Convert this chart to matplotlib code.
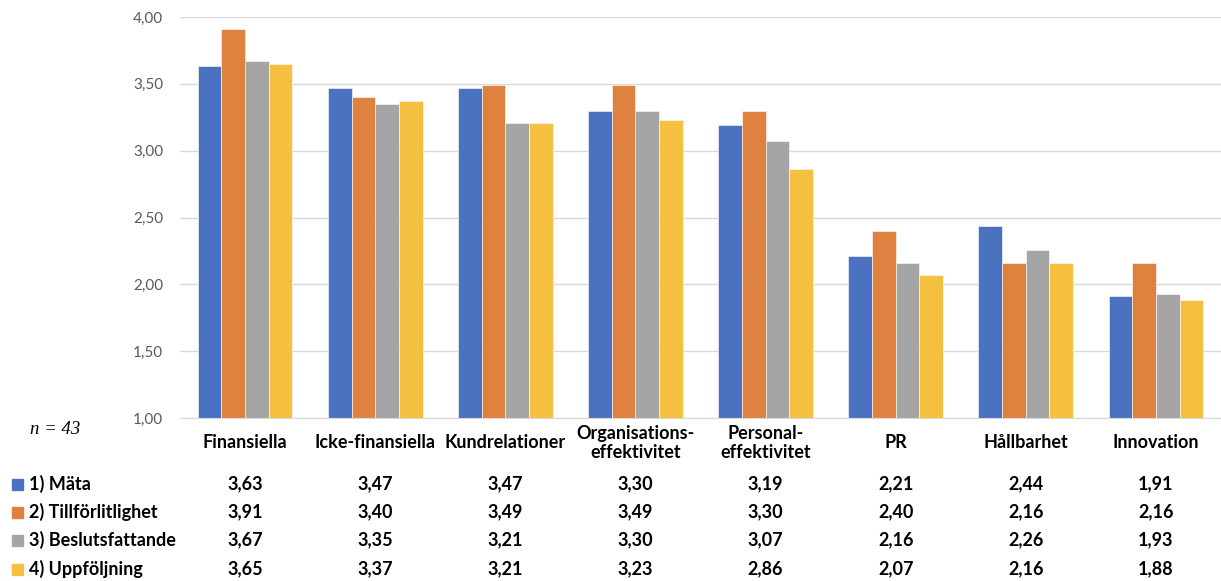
import matplotlib
matplotlib.use("Agg")
import matplotlib.pyplot as plt
from matplotlib.patches import Rectangle
from matplotlib.transforms import blended_transform_factory
import numpy as np

categories = ["Finansiella", "Icke-finansiella", "Kundrelationer",
              "Organisations-\neffektivitet", "Personal-\neffektivitet",
              "PR", "Hållbarhet", "Innovation"]
series_names = ["1) Mäta", "2) Tillförlitlighet", "3) Beslutsfattande", "4) Uppföljning"]
mata = [3.63, 3.47, 3.47, 3.30, 3.19, 2.21, 2.44, 1.91]
tillforlitlighet = [3.91, 3.40, 3.49, 3.49, 3.30, 2.40, 2.16, 2.16]
beslutsfattande = [3.67, 3.35, 3.21, 3.30, 3.07, 2.16, 2.26, 1.93]
uppfoljning = [3.65, 3.37, 3.21, 3.23, 2.86, 2.07, 2.16, 1.88]
yticks = [1.00, 1.50, 2.00, 2.50, 3.00, 3.50, 4.00]

series = [mata, tillforlitlighet, beslutsfattande, uppfoljning]
colors = ["#4A72C0", "#E0823F", "#A5A5A5", "#F5C040"]

plt.rcParams["font.family"] = ["Lato", "DejaVu Sans"]

W, H = 1221, 581
fig = plt.figure(figsize=(W / 100, H / 100), dpi=100)
ax = fig.add_axes([180 / W, 1 - 418 / H, (1221 - 180) / W, (418 - 17) / H])

x = np.arange(len(categories))
bw = 0.182
for i, (vals, c) in enumerate(zip(series, colors)):
    ax.bar(x + (i - 1.5) * bw, vals, width=bw, color=c, edgecolor="white",
           linewidth=0.4, zorder=3)

ax.set_xlim(-0.5, len(categories) - 0.5)
ax.set_ylim(1.0, 4.0)
ax.set_yticks(yticks)
ax.set_yticklabels([f"{v:.2f}".replace(".", ",") for v in yticks],
                   fontsize=11, color="#595959")
ax.tick_params(axis="y", length=0, pad=12)
ax.set_xticks([])
ax.grid(axis="y", color="#D9D9D9", linewidth=1, zorder=0)
for s in ["top", "right", "left"]:
    ax.spines[s].set_visible(False)
ax.spines["bottom"].set_color("#D9D9D9")
ax.spines["bottom"].set_zorder(4)

# category labels and data table under the axis
tr = blended_transform_factory(ax.transData, fig.transFigure)
for xi, cat in zip(x, categories):
    ax.text(xi, 1 - 443 / H, cat, transform=tr, ha="center", va="center",
            fontsize=13, fontweight="bold", linespacing=1.15, clip_on=False)

row_y = [484, 512, 540, 569]
for ry, name, vals, c in zip(row_y, series_names, series, colors):
    yf = 1 - ry / H
    fig.patches.append(Rectangle((12 / W, yf - 5.5 / H), 11 / W, 11 / H,
                                 transform=fig.transFigure, color=c))
    fig.text(29 / W, yf, name, ha="left", va="center", fontsize=13,
             fontweight="bold")
    for xi, v in zip(x, vals):
        ax.text(xi, yf, f"{v:.2f}".replace(".", ","), transform=tr,
                ha="center", va="center", fontsize=13, fontweight="bold",
                clip_on=False)

fig.text(30 / W, 1 - 430 / H, "n = 43", family="Liberation Serif",
         style="italic", fontsize=13.5, ha="left", va="center")

fig.savefig("out.png", dpi=100)
